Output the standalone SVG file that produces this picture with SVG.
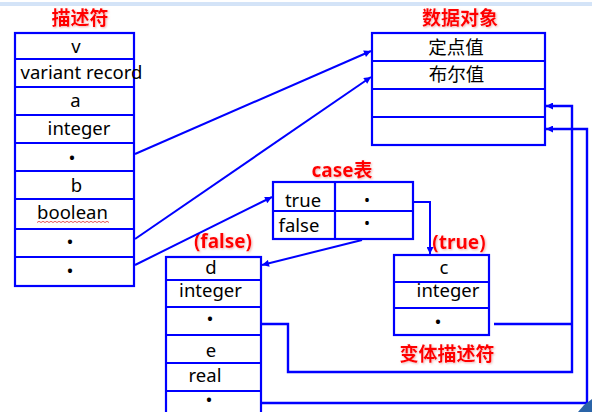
<svg xmlns="http://www.w3.org/2000/svg" width="592" height="412" viewBox="0 0 592 412">
<style>
.box{fill:none;stroke:#0000ff;stroke-width:2.2}
.ln{stroke:#0000ff;stroke-width:2.2;fill:none}
.t{font-family:"Noto Sans","Noto Sans CJK SC",sans-serif;font-size:18.5px;fill:#000;text-anchor:middle}
.d{font-family:"Noto Sans",sans-serif;font-size:16px;fill:#000;text-anchor:middle}
.h{font-family:"Noto Sans","Noto Sans CJK SC",sans-serif;font-size:19px;font-weight:bold;fill:#ff0000;text-anchor:middle;filter:url(#sh)}
.c{stroke:#0000ff;stroke-width:2;fill:none}
.c2{stroke:#0000ff;stroke-width:2.4;fill:none}
</style>
<defs>
<filter id="sh" x="-10%" y="-20%" width="130%" height="150%">
<feDropShadow dx="1" dy="1" stdDeviation="0.8" flood-color="#e08080" flood-opacity="0.6"/>
</filter>
<marker id="ah" viewBox="0 0 10 10" refX="10" refY="5" markerUnits="userSpaceOnUse" markerWidth="8" markerHeight="7" orient="auto">
<path d="M0,0 L10,5 L0,10 z" fill="#0000ff"/>
</marker>
</defs>
<rect width="592" height="412" fill="#ffffff"/>
<line x1="0" y1="3" x2="592" y2="3" stroke="#a8c8f0" stroke-width="1"/>
<line x1="0" y1="5" x2="592" y2="5" stroke="#a8c8f0" stroke-width="1"/>

<g id="desc">
<text class="h" x="80" y="24.5">描述符</text>
<rect class="box" x="15" y="33" width="119" height="253"/>
<path class="ln" d="M15,59H134M15,87H134M15,115H134M15,143H134M15,171H134M15,199H134M15,229H134M15,257H134"/>
<text class="t" x="76" y="53">v</text>
<text class="t" x="81.5" y="79">variant record</text>
<text class="t" x="75.5" y="107">a</text>
<text class="t" x="79" y="135">integer</text>
<text class="t" x="72" y="164">•</text>
<text class="t" x="76.5" y="191.5">b</text>
<text class="t" x="72.5" y="218.5">boolean</text>
<path d="M37,222.5 l2,-1.2 l2,1.2 l2,-1.2 l2,1.2 l2,-1.2 l2,1.2 l2,-1.2 l2,1.2 l2,-1.2 l2,1.2 l2,-1.2 l2,1.2 l2,-1.2 l2,1.2 l2,-1.2 l2,1.2 l2,-1.2 l2,1.2 l2,-1.2 l2,1.2 l2,-1.2 l2,1.2 l2,-1.2 l2,1.2 l2,-1.2 l2,1.2 l2,-1.2 l2,1.2 l2,-1.2 l2,1.2 l2,-1.2 l2,1.2 l2,-1.2 l2,1.2 l2,-1.2 l2,1.2" fill="none" stroke="#e03030" stroke-width="0.8"/>
<text class="t" x="70" y="248">•</text>
<text class="t" x="70" y="277">•</text>
</g>

<g id="data">
<text class="h" x="460" y="24.5">数据对象</text>
<rect class="box" x="372" y="33" width="173" height="112"/>
<path class="ln" d="M372,61H545M372,89H545M372,117H545"/>
<text class="t" x="456" y="54">定点值</text>
<text class="t" x="456.5" y="80.5">布尔值</text>
</g>

<g id="case">
<text class="h" x="342" y="177">case表</text>
<rect class="box" x="273" y="182" width="140" height="57"/>
<path class="ln" d="M273,211H413M335,182V239"/>
<text class="t" x="303" y="207">true</text>
<text class="t" x="299" y="232">false</text>
<text class="d" x="367" y="205.5">•</text>
<text class="d" x="367" y="229">•</text>
</g>

<g id="falsev">
<text class="h" x="223" y="248">(false)</text>
<rect class="box" x="166" y="257" width="95" height="160"/>
<path class="ln" d="M166,280H261M166,307H261M166,335H261M166,363H261M166,391H261"/>
<text class="t" x="211" y="274">d</text>
<text class="t" x="210.5" y="297">integer</text>
<text class="t" x="210" y="325">•</text>
<text class="t" x="211" y="357">e</text>
<text class="t" x="205" y="382">real</text>
<text class="t" x="209" y="406">•</text>
</g>

<g id="truev">
<text class="h" x="459" y="248.5">(true)</text>
<rect class="box" x="394" y="255" width="95" height="80"/>
<path class="ln" d="M394,282H489M394,308H489"/>
<text class="t" x="444" y="274">c</text>
<text class="t" x="448" y="297">integer</text>
<text class="t" x="438" y="328">•</text>
<text class="h" x="447" y="361">变体描述符</text>
</g>

<g id="connectors">
<path class="c" d="M135,154 L371,51" marker-end="url(#ah)"/>
<path class="c" d="M135,239 L371,77" marker-end="url(#ah)"/>
<path class="c" d="M135,265 L272,197" marker-end="url(#ah)"/>
<path class="c" d="M362,240 L262,265" marker-end="url(#ah)"/>
<path class="c" d="M413,202 H430 V254" marker-end="url(#ah)"/>
<path class="c2" d="M261,324 H288 V372 H572 V106 H546" marker-end="url(#ah)"/>
<path class="c2" d="M494,324 H572"/>
<path class="c2" d="M261,403 H587 V129 H546" marker-end="url(#ah)"/>
</g>
<path d="M578,412 L584,405 L592,399 L592,412 Z" fill="#2a64a8"/>
</svg>
